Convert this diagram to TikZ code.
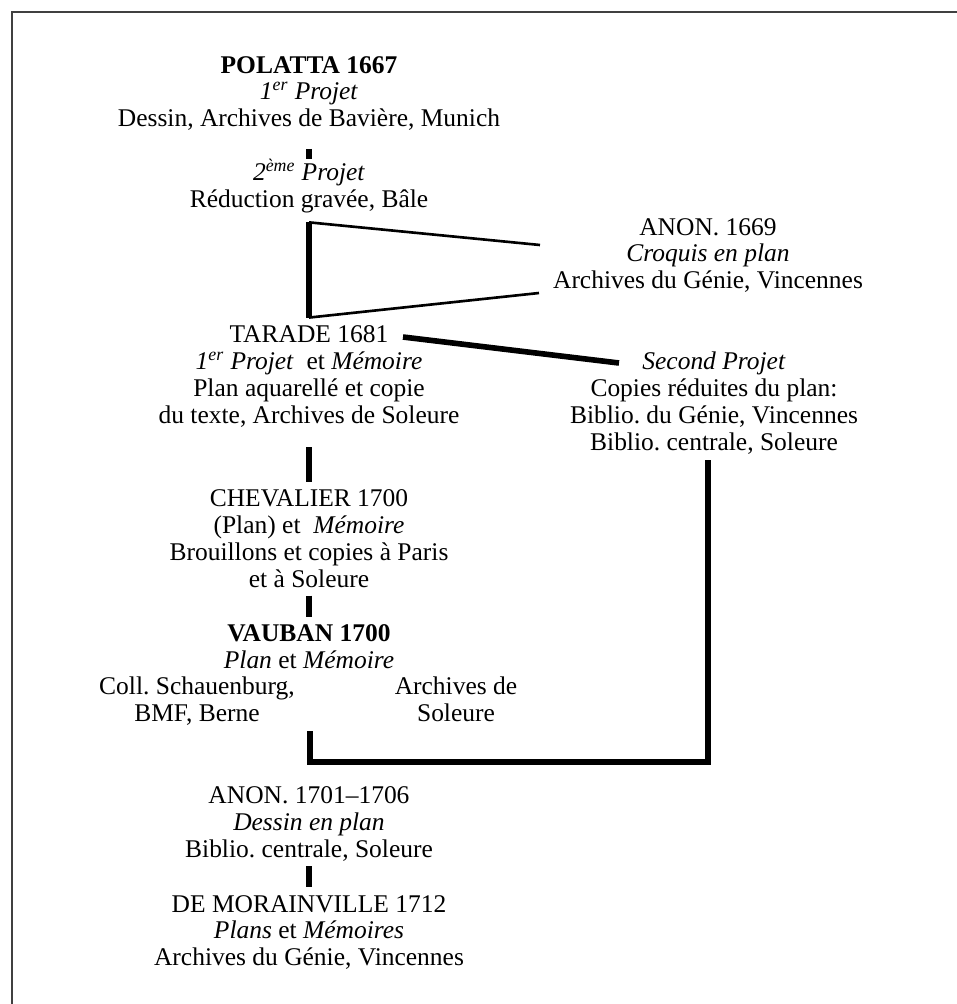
\documentclass[tikz,border=0pt]{standalone}
\usepackage{fontspec}
\setmainfont{Liberation Serif}
\usepackage{tikz}
\frenchspacing
\tikzset{
    every node/.style={inner sep=0mm, align=center, anchor=base,
        font=\fontsize{14.5}{15.2}\selectfont}
}
\tikzset{bar/.style={line width=3.4pt}}
\tikzset{heavy/.style={line width=3.2pt}}
\tikzset{slim/.style={line width=1.5pt}}
\tikzset{frame/.style={line width=1.1pt, black!75}}

\begin{document}
\begin{tikzpicture}
    \useasboundingbox (0cm, 0cm) rectangle (19.14cm, -20.08cm);
    \draw[frame] (0.24cm, -20.08cm) -- (0.24cm, -0.24cm) -- (19.14cm, -0.24cm);
    %\draw[help lines, step=1cm] (0cm, 0cm) grid (19cm, -20cm);

    % base of each block is the baseline of its last line
    \node (polatta) at (6.18cm, -2.53cm)
        {\textbf{POLATTA 1667}\\ \textit{1\textsuperscript{er} Projet}\\
         Dessin, Archives de Bavière, Munich};
    \node (polattab) at (6.18cm, -4.15cm)
        {\textit{2\textsuperscript{ème} Projet}\\ Réduction gravée, Bâle};
    \node (anon) at (14.16cm, -5.77cm)
        {ANON. 1669\\ \textit{Croquis en plan}\\ Archives du Génie, Vincennes};
    \node (tarade) at (6.18cm, -8.46cm)
        {TARADE 1681\\ \textit{1\textsuperscript{er} Projet}\ \ et \textit{Mémoire}\\
         Plan aquarellé et copie\\ du texte, Archives de Soleure};
    \node (second) at (14.28cm, -9.00cm)
        {\textit{Second Projet}\\ Copies réduites du plan:\\
         Biblio. du Génie, Vincennes\\ Biblio. centrale, Soleure};
    \node (chevalier) at (6.18cm, -11.74cm)
        {CHEVALIER 1700\\ (Plan) et\ \ \textit{Mémoire}\\
         Brouillons et copies à Paris\\ et à Soleure};
    \node (vauban) at (6.18cm, -13.37cm)
        {\textbf{VAUBAN 1700}\\ \textit{Plan} et \textit{Mémoire}};
    \node (vaubl) at (3.94cm, -14.43cm) {Coll. Schauenburg,\\ BMF, Berne};
    \node (vaubr) at (9.12cm, -14.43cm) {Archives de\\ Soleure};
    \node (anonb) at (6.18cm, -17.14cm)
        {ANON. 1701--1706\\ \textit{Dessin en plan}\\ Biblio. centrale, Soleure};
    \node (morainville) at (6.18cm, -19.31cm)
        {DE MORAINVILLE 1712\\ \textit{Plans} et \textit{Mémoires}\\
         Archives du Génie, Vincennes};

    \coordinate (ka) at ([yshift=-0.18cm]polattab.south);
    \coordinate (kb) at ([yshift=0.16cm]tarade.north);
    \coordinate (ta) at (10.80cm, -4.90cm);
    \coordinate (tb) at (10.78cm, -5.86cm);
    \coordinate (tr) at (8.06cm, -6.74cm);
    \coordinate (sl) at (12.38cm, -7.26cm);
    \coordinate (vfoot) at (6.20cm, -14.62cm);

    \draw (polatta) edge[bar, shorten <=0.36cm] (polattab);
    \draw[heavy] (ka) -- (kb);
    \draw[slim] (ka) -- (ta);
    \draw[slim] (kb) -- (tb);
    \draw[heavy] (tr) -- (sl);
    \draw (tarade) edge[bar, shorten <=0.40cm, shorten >=0.16cm] (chevalier);
    \draw (chevalier) edge[bar, shorten <=0.16cm, shorten >=0.16cm] (vauban);
    \draw[heavy] (vfoot) -- ++(0cm, -0.62cm) -| ([xshift=-0.12cm, yshift=-0.12cm]second.south);
    \draw (anonb) edge[bar, shorten <=0.10cm, shorten >=0.16cm] (morainville);
\end{tikzpicture}
\end{document}
